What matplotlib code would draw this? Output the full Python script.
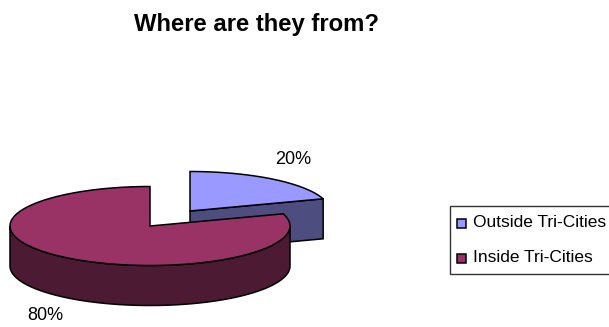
import numpy as np
import matplotlib
matplotlib.use("Agg")
import matplotlib.pyplot as plt
from matplotlib.patches import Polygon, Rectangle

plt.rcParams["font.family"] = ["Liberation Sans", "DejaVu Sans"]

categories = ["Outside Tri-Cities", "Inside Tri-Cities"]
shares = [20, 80]
share_labels = ["20%", "80%"]
top_colors = ["#9999FF", "#993366"]
side_colors = ["#4D4D80", "#4D1A33"]

RX, RY = 140, 39.5
DEPTH = 40


def rim(cx, cy, start, end, n=160):
    # angles run clockwise from 12 o'clock, in degrees
    t = np.radians(np.linspace(start, end, n))
    return np.column_stack([cx + RX * np.sin(t), cy - RY * np.cos(t)])


fig = plt.figure(figsize=(6.09, 3.27), dpi=100)
ax = fig.add_axes([0, 0, 1, 1])
ax.set_xlim(0, 609)
ax.set_ylim(327, 0)
ax.axis("off")

sweep = [s / sum(shares) * 360 for s in shares]

# small slice, pulled out to the right
cx, cy = 190, 211
a0, a1 = 0, sweep[0]
edge = rim(cx, cy, a0, a1)
wall = [[cx, cy], edge[-1], edge[-1] + [0, DEPTH], [cx, cy + DEPTH]]
ax.add_patch(Polygon(wall, fc=side_colors[0], ec="black", lw=1.1, zorder=1))
ax.add_patch(Polygon(np.vstack([[cx, cy], edge]), fc=top_colors[0], ec="black", lw=1.1, zorder=2))

# big slice
cx, cy = 150, 226
a0, a1 = sweep[0], 360
side = rim(cx, cy, 90, 270)
ax.add_patch(Polygon(np.vstack([side, (side + [0, DEPTH])[::-1]]),
                     fc=side_colors[1], ec="black", lw=1.1, zorder=3))
edge = rim(cx, cy, a0, a1)
ax.add_patch(Polygon(np.vstack([[cx, cy], edge]), fc=top_colors[1], ec="black", lw=1.1, zorder=4))

ax.text(293.5, 159, share_labels[0], fontsize=13, ha="center", va="center", color="black")
ax.text(45, 316, share_labels[1], fontsize=13, ha="center", va="center", color="black")

ax.text(257, 25, "Where are they from?", fontsize=17.2, fontweight="bold",
        ha="center", va="center", color="black")

# legend box is cut off by the right edge of the figure
ax.add_patch(Rectangle((450, 206), 170, 68, fc="white", ec="#333333", lw=1, zorder=5))
for i, (name, color) in enumerate(zip(categories, top_colors)):
    y = 223.5 + i * 34.5
    ax.add_patch(Rectangle((457, y - 4.5), 9, 9, fc=color, ec="black", lw=1.1, zorder=6))
    ax.text(473, y - 1, name, fontsize=12.5, ha="left", va="center", color="black", zorder=6)

fig.savefig("out.png", dpi=100)
